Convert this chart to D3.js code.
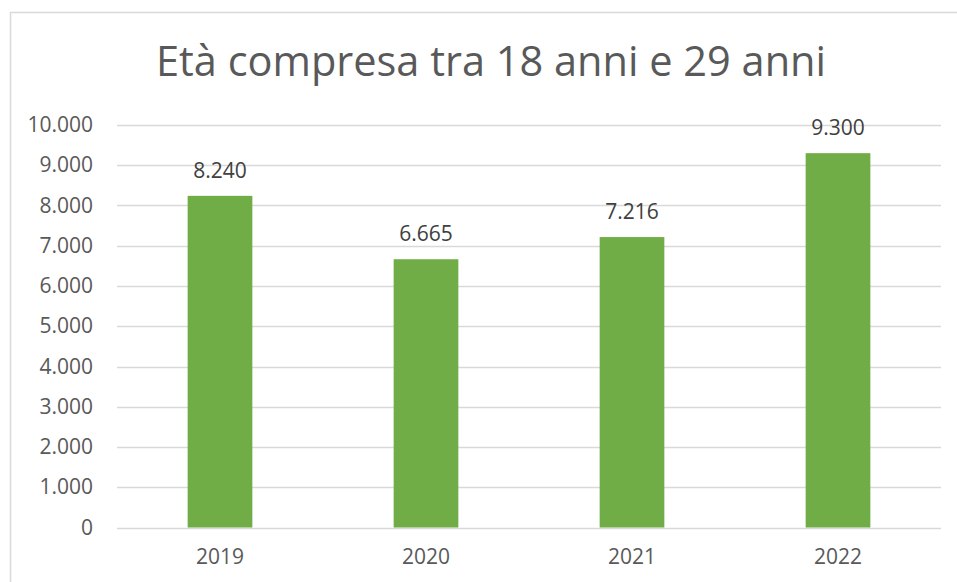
<!DOCTYPE html>
<html>
<head>
<meta charset="utf-8">
<script src="https://cdn.jsdelivr.net/npm/d3@7"></script>
<style>
  body { margin: 0; background: #fff; }
  svg { display: block; font-family: "Open Sans", sans-serif; }
</style>
</head>
<body>
<script>
// data
var years = ["2019", "2020", "2021", "2022"];
var values = [8240, 6665, 7216, 9300];
var yTicks = [0, 1000, 2000, 3000, 4000, 5000, 6000, 7000, 8000, 9000, 10000];
var title = "Età compresa tra 18 anni e 29 anni";

var width = 957, height = 582;
var margin = {top: 125, right: 16, bottom: 54.5, left: 117};
var w = width - margin.left - margin.right;
var h = height - margin.top - margin.bottom;

var textColor = "#595959";
var gridColor = "#d9d9d9";
var barColor = "#70ad47";
var font = "'Open Sans', sans-serif";

// number format with dot as thousands separator
var it = d3.formatLocale({decimal: ",", thousands: ".", grouping: [3], currency: ["€", ""]});
var fmt = it.format(",d");

var svg = d3.select("body").append("svg")
    .attr("width", width)
    .attr("height", height);

// chart border (only top and left visible)
svg.append("path")
    .attr("d", "M10.5," + height + "V12.5H" + width)
    .attr("fill", "none")
    .attr("stroke", gridColor)
    .attr("stroke-width", 1.5);

// title
svg.append("text")
    .attr("x", 491)
    .attr("y", 76)
    .attr("text-anchor", "middle")
    .attr("fill", textColor)
    .style("font-size", "41.5px")
    .text(title);

var g = svg.append("g")
    .attr("transform", "translate(" + margin.left + "," + margin.top + ")");

var x = d3.scaleBand()
    .domain(years)
    .range([0, w])
    .paddingInner(0.686)
    .paddingOuter(0.343);

var y = d3.scaleLinear()
    .domain([0, 10000])
    .range([h, 0]);

// gridlines
g.append("g")
  .selectAll("line")
  .data(yTicks)
  .enter()
  .append("line")
    .attr("x1", 0)
    .attr("x2", w)
    .attr("y1", function(d) { return Math.round(y(d)) + 0.5; })
    .attr("y2", function(d) { return Math.round(y(d)) + 0.5; })
    .attr("stroke", gridColor)
    .attr("stroke-width", 1.5);

// y axis labels
var yAxis = d3.axisLeft(y)
    .tickValues(yTicks)
    .tickFormat(fmt)
    .tickSize(0)
    .tickPadding(24);

g.append("g")
    .call(yAxis)
    .call(function(s) { s.select(".domain").remove(); })
    .selectAll("text")
    .attr("fill", textColor)
    .style("font-size", "21px")
    .style("font-family", font);

// bars
g.selectAll(".bar")
    .data(values)
  .enter()
    .append("rect")
    .attr("class", "bar")
    .attr("x", function(d, i) { return x(years[i]); })
    .attr("width", x.bandwidth())
    .attr("y", function(d) { return y(d); })
    .attr("height", function(d) { return h - y(d); })
    .attr("fill", barColor);

// data labels
g.selectAll(".label")
    .data(values)
  .enter()
    .append("text")
    .attr("class", "label")
    .attr("x", function(d, i) { return x(years[i]) + x.bandwidth() / 2; })
    .attr("y", function(d) { return y(d) - 18; })
    .attr("text-anchor", "middle")
    .attr("fill", "#404040")
    .style("font-size", "21px")
    .text(function(d) { return fmt(d); });

// x axis labels
var xAxis = d3.axisBottom(x)
    .tickSize(0)
    .tickPadding(22);

g.append("g")
    .attr("transform", "translate(0," + h + ")")
    .call(xAxis)
    .call(function(s) { s.select(".domain").remove(); })
    .selectAll("text")
    .attr("fill", textColor)
    .style("font-size", "21px")
    .style("font-family", font);
</script>
</body>
</html>
